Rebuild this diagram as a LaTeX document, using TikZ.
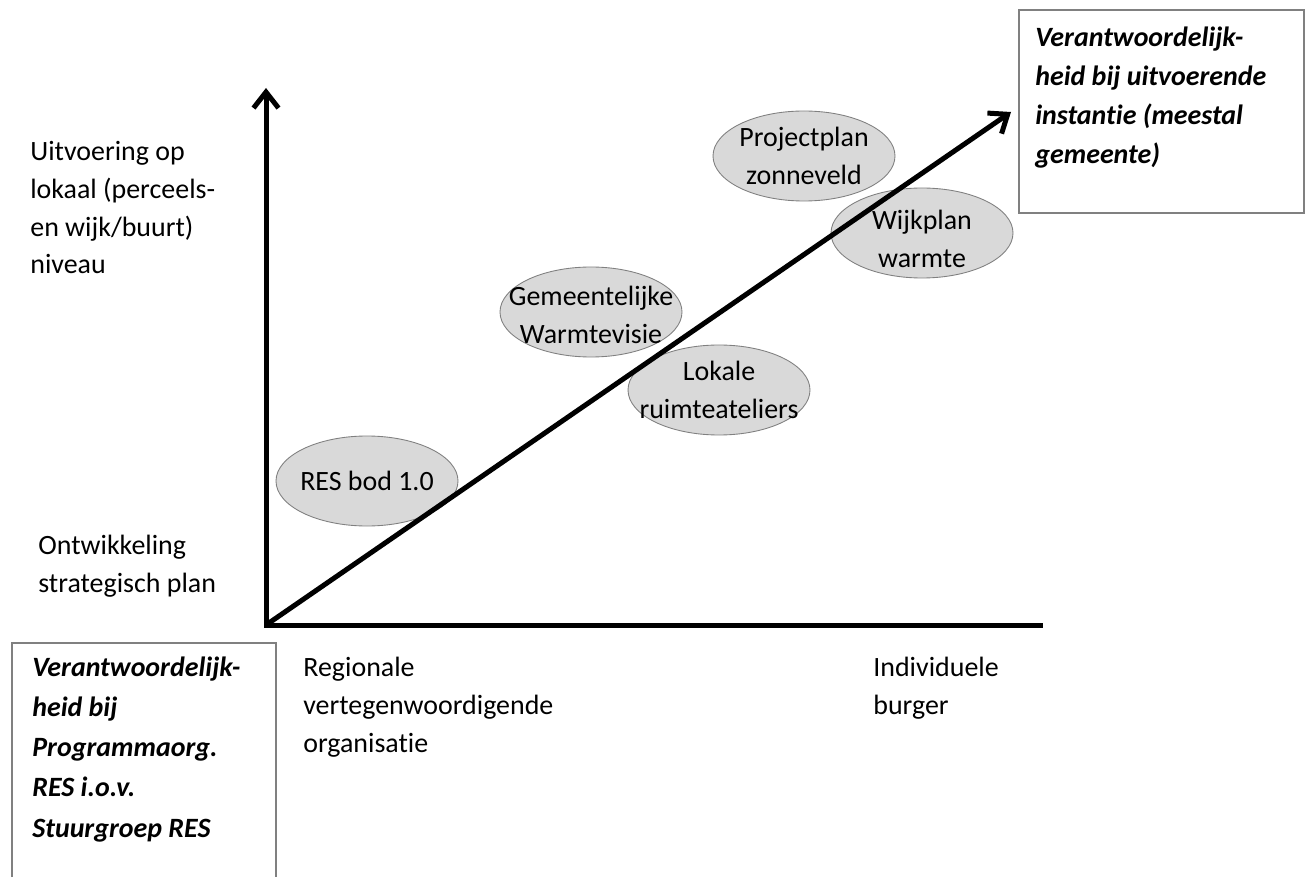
\documentclass[tikz,border=0pt]{standalone}
\usepackage{fontspec}
\setmainfont[Ligatures=NoCommon]{Carlito}
\usepackage{xcolor}
\usetikzlibrary{arrows.meta}
\usetikzlibrary{shapes.geometric}
\newcommand\lblfont{\fontsize{15.9pt}{21.6pt}\selectfont}
\newcommand\boxfont{\fontsize{15.9pt}{22.2pt}\selectfont\bfseries\itshape}
\newcommand\boxfontb{\fontsize{15.9pt}{22.8pt}\selectfont\bfseries\itshape}

\begin{document}
\begin{tikzpicture}[
  axis/.style={line width=0.1cm, line join=miter, -{Straight Barb[length=0.32cm,width=0.5cm]}},
  bubble/.style={ellipse, draw=gray, line width=0.5pt, fill=gray!30, minimum width=3.64cm, minimum height=1.8cm, inner sep=0pt},
  bubbletxt/.style={align=center, inner sep=0pt, font=\lblfont},
  axislbl/.style={anchor=base west, align=left, inner sep=0pt, font=\lblfont},
  boxtxt/.style={anchor=base west, align=left, inner sep=0pt, font=\boxfont},
  boxline/.style={draw=gray, line width=0.75pt}]
\useasboundingbox (0,0) rectangle (26.18,17.54);

\node [bubble] (resbod) at (7.34,7.92) {};
\node [bubble] (gemvisie) at (11.82,11.3) {};
\node [bubble] (ateliers) at (14.38,9.74) {};
\node [bubble] (zonneveld) at (16.08,14.42) {};
\node [bubble] (wijkplan) at (18.44,12.88) {};
\node [bubbletxt] (resbodtxt) at (resbod) {RES bod 1.0};
\node [bubbletxt] (gemvisietxt) at ([yshift=-0.06cm]gemvisie) {Gemeentelijke\\Warmtevisie};
\node [bubbletxt] (atelierstxt) at (ateliers) {Lokale\\ruimteateliers};
\node [bubbletxt] (zonneveldtxt) at (zonneveld) {Projectplan\\zonneveld};
\node [bubbletxt] (wijkplantxt) at ([yshift=-0.12cm]wijkplan) {Wijkplan\\warmte};

\coordinate (O) at (5.32,5.04);
\coordinate (ytop) at (5.32,15.78);
\coordinate (xtop) at (20.86,5.04);
\coordinate (diagtop) at (20.22,15.3);
\draw [axis, {Straight Barb[length=0.32cm,width=0.5cm]}-] (ytop) -- (O) -- (xtop);
\draw [axis] (O) -- (diagtop);

\node [axislbl] (uitvoering) at (0.60,12.06) {Uitvoering op\\lokaal (perceels-\\en wijk/buurt)\\niveau};
\node [axislbl] (ontwikkeling) at (0.76,5.70) {Ontwikkeling\\strategisch plan};
\node [axislbl] (regionaal) at (6.06,2.50) {Regionale\\vertegenwoordigende\\organisatie};
\node [axislbl] (burger) at (17.46,3.26) {Individuele\\burger};

\draw [boxline] (20.38,13.28) rectangle (26.08,17.34);
\node [boxtxt] (uitvoerder) at (20.70,14.26) {Verantwoordelijk-\\heid bij uitvoerende\\instantie (meestal\\gemeente)};
\draw [boxline] (0.24,0) |- (5.52,4.68) -- (5.52,0);
\node [boxtxt, font=\boxfontb] (programma) at (0.64,0.80) {Verantwoordelijk-\\heid bij\\Programmaorg.\\RES i.o.v.\\Stuurgroep RES};
\end{tikzpicture}
\end{document}
